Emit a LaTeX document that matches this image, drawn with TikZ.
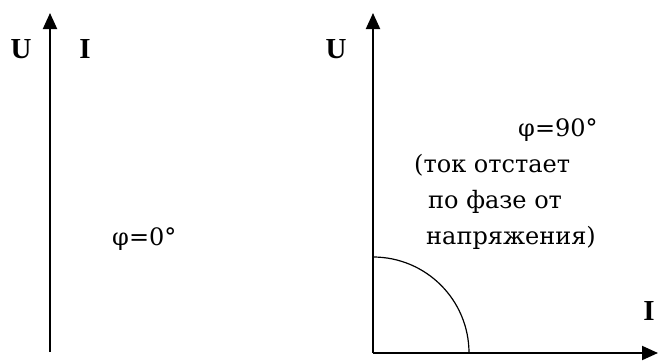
\documentclass[tikz,border=0pt]{standalone}
\usepackage{fontspec}
\usepackage{tikz}
\usetikzlibrary{arrows.meta,positioning}
\newfontfamily\axisfont{Liberation Serif}
\newfontfamily\notefont{DejaVu Serif}
\tikzset{
  axis/.style={-{Triangle[length=16pt,width=14pt]},line width=2pt},
  axlbl/.style={font=\axisfont\bfseries\fontsize{29}{29}\selectfont,
                inner sep=0pt,anchor=base},
  note/.style={font=\notefont\fontsize{24}{24}\selectfont,
               inner sep=0pt,anchor=base west},
}
\begin{document}
\begin{tikzpicture}[x=1pt,y=1pt]
        \useasboundingbox (0,0) rectangle (659,360);
        % left diagram: U and I in phase
        \coordinate (lo) at (50,8);
        \coordinate (lt) at (50,347);
        \draw[axis] (lo)--(lt);
        \node[axlbl] (lu) at (21,302) {U};
        \node[axlbl] (li) at (85,302) {I};
        \node[note] (phi0) at (112,115) {φ=0°};
        % right diagram: current lags by 90 degrees
        \coordinate (ro) at (373,7);
        \coordinate (rt) at (373,347);
        \coordinate (rx) at (658,7);
        \coordinate (arc0) at (469,7);
        \draw[axis] (ro)--(rt);
        \draw[axis] (ro)--(rx);
        \draw[line width=1.2pt] (arc0) arc[start angle=0,end angle=90,radius=96];
        \node[axlbl] (ru) at (336,302) {U};
        \node[axlbl] (ri) at (649,40) {I};
        \node[note] (phi90) at (518,224) {φ=90°};
        \node[note] (l1) at (414,188) {(ток отстает};
        \node[note] (l2) at (428,152) {по фазе от};
        \node[note] (l3) at (426,116) {напряжения)};
      \end{tikzpicture}
\end{document}
